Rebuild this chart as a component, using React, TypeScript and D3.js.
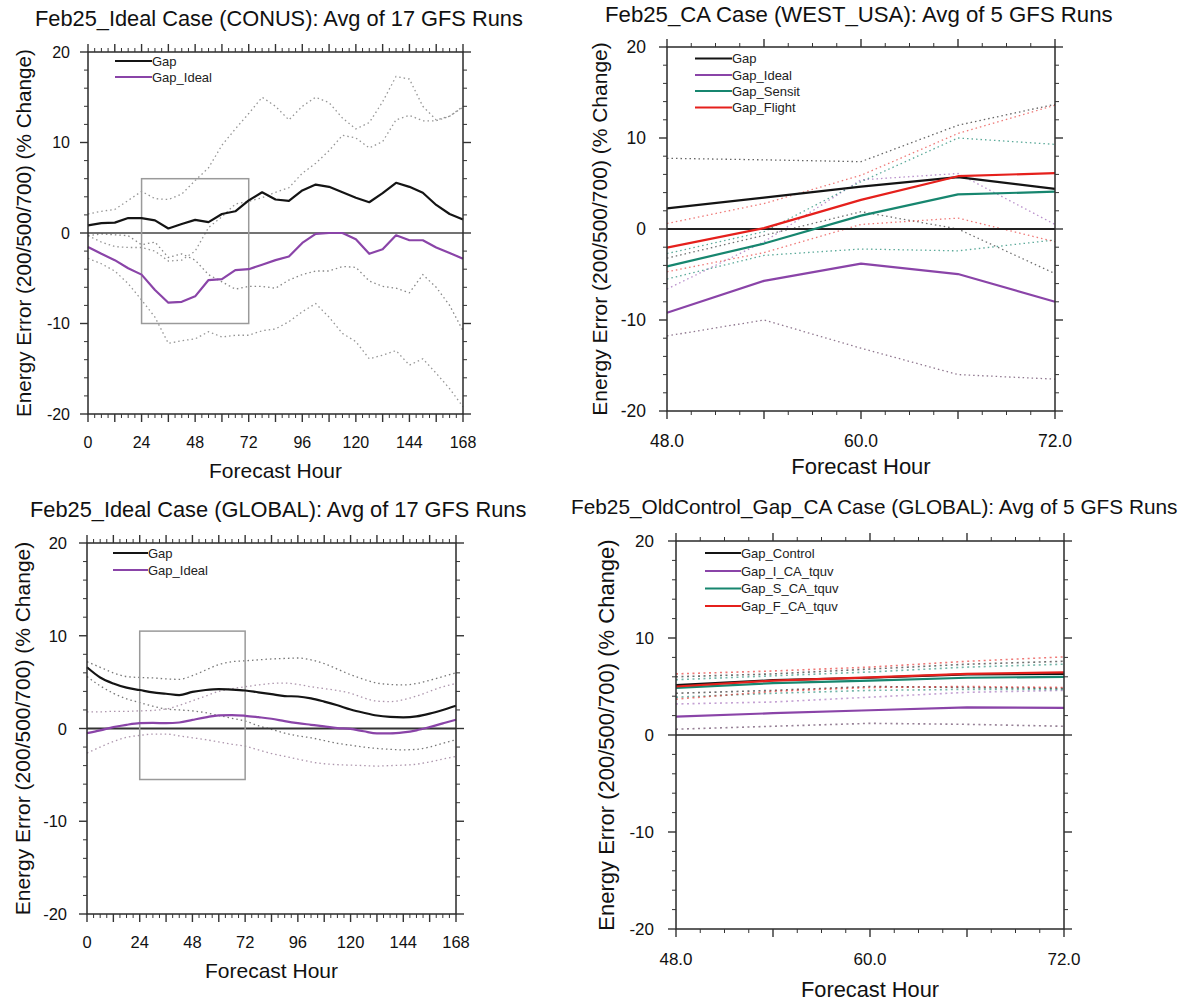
import React from "react";
import * as d3 from "d3";

const FONT = "'Liberation Sans', Arial, Helvetica, sans-serif";

// ---------- x categories & tick labels ----------
const hoursWeek = [0, 6, 12, 18, 24, 30, 36, 42, 48, 54, 60, 66, 72, 78, 84, 90, 96, 102, 108, 114, 120, 126, 132, 138, 144, 150, 156, 162, 168];
const hoursCA = [48, 54, 60, 66, 72];
const weekTickLabels = [0, 24, 48, 72, 96, 120, 144, 168];
const caTickLabels = [48, 60, 72];
const yTickLabels = [-20, -10, 0, 10, 20];

// ---------- Panel 1: Ideal Case (CONUS) ----------
const conusGap = [0.85, 1.1, 1.15, 1.65, 1.65, 1.4, 0.5, 1.0, 1.45, 1.2, 2.1, 2.4, 3.6, 4.5, 3.7, 3.55, 4.7, 5.35, 5.1, 4.5, 3.9, 3.4, 4.4, 5.55, 5.1, 4.45, 3.1, 2.1, 1.5];
const conusIdeal = [-1.55, -2.3, -3.0, -3.9, -4.6, -6.3, -7.7, -7.6, -7.0, -5.2, -5.1, -4.1, -4.0, -3.5, -3.0, -2.6, -1.1, -0.1, 0, 0, -0.7, -2.3, -1.8, -0.25, -0.8, -0.8, -1.6, -2.2, -2.85];
const conusGapUp = [2.1, 2.4, 2.6, 3.6, 4.6, 3.8, 3.7, 4.3, 5.8, 7.2, 9.7, 11.5, 13.2, 15.0, 14.0, 12.5, 14.0, 15.0, 14.4, 12.7, 11.5, 12.2, 14.5, 17.3, 17.0, 14.0, 12.5, 12.9, 14.0];
const conusGapLo = [-0.3, -0.1, -0.2, -0.3, -1.3, -1.0, -2.7, -2.3, -3.0, -4.6, -5.4, -6.2, -5.9, -5.9, -6.1, -5.2, -4.6, -4.2, -4.2, -3.7, -3.8, -5.3, -5.9, -6.1, -6.6, -4.6, -6.0, -8.0, -10.8];
const conusIdealUp = [-0.3, -1.0, -1.5, -1.6, -1.6, -2.0, -3.1, -3.0, -2.0, 0.6, 1.8, 3.2, 3.5, 3.9, 4.5, 5.0, 6.6, 7.7, 9.1, 10.8, 10.5, 9.4, 10.1, 12.5, 13.0, 12.4, 12.4, 12.9, 13.9];
const conusIdealLo = [-2.8, -3.4, -4.2, -5.6, -7.4, -9.3, -12.2, -11.9, -11.7, -10.9, -11.5, -11.3, -11.3, -10.8, -10.6, -9.8, -8.7, -7.8, -9.3, -11.1, -12.0, -13.9, -13.5, -13.0, -14.6, -13.9, -15.5, -17.2, -19.2];

// ---------- Panel 2: CA Case (WEST_USA) ----------
const westGap = [2.27, 3.45, 4.65, 5.7, 4.4];
const westIdeal = [-9.2, -5.7, -3.8, -4.95, -8.0];
const westSensit = [-4.1, -1.6, 1.47, 3.8, 4.1];
const westFlight = [-2.05, 0.1, 3.2, 5.8, 6.15];
const westGapUp = [7.77, 7.6, 7.4, 11.4, 13.7];
const westGapLo = [-3.2, -0.7, 1.9, 0.0, -4.9];
const westIdealUp = [-6.6, -1.4, 5.4, 6.1, 0.5];
const westIdealLo = [-11.75, -10.0, -13.1, -16.0, -16.5];
const westSensitUp = [-2.7, -0.3, 5.2, 10.0, 9.3];
const westSensitLo = [-5.5, -2.9, -2.2, -2.4, -1.2];
const westFlightUp = [0.6, 2.8, 5.9, 10.5, 13.6];
const westFlightLo = [-4.7, -2.6, 0.5, 1.2, -1.4];

// ---------- Panel 3: Ideal Case (GLOBAL) ----------
const globGap = [6.6, 5.5, 4.85, 4.4, 4.15, 3.9, 3.75, 3.6, 3.95, 4.15, 4.25, 4.2, 4.1, 3.9, 3.7, 3.5, 3.45, 3.25, 2.9, 2.5, 2.05, 1.7, 1.4, 1.25, 1.2, 1.3, 1.6, 2.0, 2.45];
const globIdeal = [-0.5, -0.2, 0.15, 0.4, 0.57, 0.6, 0.58, 0.65, 0.93, 1.2, 1.42, 1.45, 1.37, 1.22, 1.05, 0.8, 0.58, 0.4, 0.22, 0.05, -0.05, -0.3, -0.52, -0.52, -0.42, -0.2, 0.15, 0.55, 0.95];
const globGapUp = [7.2, 6.6, 6.0, 5.6, 5.5, 5.45, 5.35, 5.3, 5.7, 6.3, 6.9, 7.2, 7.3, 7.4, 7.5, 7.55, 7.6, 7.4, 7.0, 6.4, 5.8, 5.3, 4.9, 4.75, 4.7, 4.85, 5.2, 5.6, 6.0];
const globGapLo = [5.6, 4.6, 3.8, 3.2, 2.8, 2.4, 2.1, 2.0, 1.9, 1.7, 1.4, 1.1, 0.8, 0.3, -0.1, -0.5, -0.8, -1.0, -1.3, -1.6, -1.8, -2.0, -2.15, -2.25, -2.3, -2.25, -2.0, -1.6, -1.2];
const globIdealUp = [1.8, 1.8, 1.85, 1.85, 1.9, 1.95, 2.1, 2.5, 3.0, 3.5, 4.0, 4.3, 4.5, 4.7, 4.85, 4.9, 4.75, 4.5, 4.3, 4.1, 3.8, 3.3, 2.95, 2.9, 3.1, 3.5, 4.0, 4.5, 4.85];
const globIdealLo = [-2.65, -2.0, -1.4, -0.95, -0.75, -0.6, -0.6, -0.8, -1.0, -1.2, -1.45, -1.7, -1.9, -2.3, -2.7, -3.0, -3.3, -3.6, -3.8, -3.9, -3.95, -4.0, -4.05, -4.0, -3.95, -3.85, -3.6, -3.3, -3.0];

// ---------- Panel 4: OldControl_Gap_CA Case (GLOBAL) ----------
const ocControl = [5.15, 5.65, 5.9, 6.25, 6.3];
const ocIdeal = [1.9, 2.25, 2.55, 2.85, 2.8];
const ocSensit = [4.85, 5.35, 5.6, 5.9, 6.0];
const ocFlight = [5.0, 5.6, 5.95, 6.3, 6.45];
const ocControlUp = [6.0, 6.3, 6.8, 7.3, 7.6];
const ocControlLo = [4.3, 4.6, 5.0, 4.9, 4.8];
const ocIdealUp = [3.2, 3.4, 3.9, 4.4, 4.6];
const ocIdealLo = [0.6, 0.9, 1.2, 1.1, 0.9];
const ocSensitUp = [5.7, 6.1, 6.5, 7.0, 7.3];
const ocSensitLo = [3.9, 4.3, 4.6, 4.7, 4.7];
const ocFlightUp = [6.3, 6.6, 7.0, 7.6, 8.05];
const ocFlightLo = [3.7, 4.5, 4.9, 5.0, 4.9];

// ---------- colours ----------
const C_BLACK = "#141414";
const C_PURPLE = "#8a44a8";
const C_TEAL = "#17866f";
const C_RED = "#e5201c";

type Line = { name: string; values: number[]; color: string };
type Band = { values: number[]; color: string; opacity: number };

interface Spec {
  title: string;
  titleX: number;
  titleY: number;
  titleSize: number;
  left: number;
  right: number;
  top: number;
  bottom: number;
  xDomain: [number, number];
  xs: number[];
  xLabels: number[];
  xFmt: (v: number) => string;
  xMajorStep: number;
  xMinorStep: number;
  lines: Line[];
  bands: Band[];
  curve: d3.CurveFactory;
  legendX1: number;
  legendX2: number;
  legendYs: number[];
  legendSize: number;
  box?: { x0: number; x1: number; y0: number; y1: number };
  yLabelX: number;
  xLabelY: number;
  xTickY: number;
  yTickX: number;
  tickSize: number;
  labelSize: number;
  yLabelSize: number;
  zeroWidth: number;
  zeroColor: string;
  bandWidth: number;
  bandDash: string;
}

function Panel({ s }: { s: Spec }) {
  const x = d3.scaleLinear().domain(s.xDomain).range([s.left, s.right]);
  const y = d3.scaleLinear().domain([-20, 20]).range([s.bottom, s.top]);
  const xMajor = d3.range(s.xDomain[0], s.xDomain[1] + 0.001, s.xMajorStep);
  const xMinor = d3.range(s.xDomain[0], s.xDomain[1] + 0.001, s.xMinorStep).filter(
    (v) => !xMajor.some((m) => Math.abs(m - v) < 1e-6)
  );
  const yMajor = yTickLabels;
  const yMinor = d3.range(-20, 20.001, 2).filter((v) => v % 10 !== 0);
  const gen = d3
    .line<number>()
    .x((_, i) => x(s.xs[i]))
    .y((d) => y(d))
    .curve(s.curve);
  const MAJ = 8;
  const MIN = 4;
  const tickColor = "#333";
  const cx = (s.left + s.right) / 2;
  const cy = (s.top + s.bottom) / 2;
  return (
    <g>
      <text x={s.titleX} y={s.titleY} fontSize={s.titleSize} fontFamily={FONT} fill="#111">
        {s.title}
      </text>
      {s.bands.map((b, i) => (
        <path
          key={"b" + i}
          d={gen(b.values) || ""}
          fill="none"
          stroke={b.color}
          strokeOpacity={b.opacity}
          strokeWidth={s.bandWidth}
          strokeDasharray={s.bandDash}
        />
      ))}
      <line x1={s.left} x2={s.right} y1={y(0)} y2={y(0)} stroke={s.zeroColor} strokeWidth={s.zeroWidth} />
      {s.box && (
        <rect
          x={x(s.box.x0)}
          y={y(s.box.y1)}
          width={x(s.box.x1) - x(s.box.x0)}
          height={y(s.box.y0) - y(s.box.y1)}
          fill="none"
          stroke="#9a9a9a"
          strokeWidth={1.5}
        />
      )}
      {s.lines.map((l, i) => (
        <path key={"l" + i} d={gen(l.values) || ""} fill="none" stroke={l.color} strokeWidth={2.2} strokeLinejoin="round" />
      ))}
      <rect x={s.left} y={s.top} width={s.right - s.left} height={s.bottom - s.top} fill="none" stroke="#2a2a2a" strokeWidth={1.5} />
      {xMajor.map((v) => (
        <g key={"xm" + v}>
          <line x1={x(v)} x2={x(v)} y1={s.bottom} y2={s.bottom + MAJ} stroke={tickColor} strokeWidth={1.4} />
          <line x1={x(v)} x2={x(v)} y1={s.top} y2={s.top - MAJ} stroke={tickColor} strokeWidth={1.4} />
        </g>
      ))}
      {xMinor.map((v) => (
        <g key={"xn" + v}>
          <line x1={x(v)} x2={x(v)} y1={s.bottom} y2={s.bottom + MIN} stroke={tickColor} strokeWidth={1} />
          <line x1={x(v)} x2={x(v)} y1={s.top} y2={s.top - MIN} stroke={tickColor} strokeWidth={1} />
        </g>
      ))}
      {yMajor.map((v) => (
        <g key={"ym" + v}>
          <line x1={s.left} x2={s.left - MAJ} y1={y(v)} y2={y(v)} stroke={tickColor} strokeWidth={1.4} />
          <line x1={s.right} x2={s.right + MAJ} y1={y(v)} y2={y(v)} stroke={tickColor} strokeWidth={1.4} />
        </g>
      ))}
      {yMinor.map((v) => (
        <g key={"yn" + v}>
          <line x1={s.left} x2={s.left - MIN} y1={y(v)} y2={y(v)} stroke={tickColor} strokeWidth={1} />
          <line x1={s.right} x2={s.right + MIN} y1={y(v)} y2={y(v)} stroke={tickColor} strokeWidth={1} />
        </g>
      ))}
      {s.xLabels.map((v) => (
        <text key={"xl" + v} x={x(v)} y={s.xTickY} fontSize={s.tickSize} fontFamily={FONT} textAnchor="middle" fill="#111">
          {s.xFmt(v)}
        </text>
      ))}
      {yMajor.map((v) => (
        <text
          key={"yl" + v}
          x={s.yTickX}
          y={y(v)}
          fontSize={s.tickSize}
          fontFamily={FONT}
          textAnchor="end"
          dominantBaseline="central"
          fill="#111"
        >
          {v}
        </text>
      ))}
      <text x={cx} y={s.xLabelY} fontSize={s.labelSize} fontFamily={FONT} textAnchor="middle" fill="#111">
        Forecast Hour
      </text>
      <text
        transform={`translate(${s.yLabelX},${cy}) rotate(-90)`}
        fontSize={s.yLabelSize}
        fontFamily={FONT}
        textAnchor="middle"
        fill="#111"
      >
        Energy Error (200/500/700) (% Change)
      </text>
      {s.lines.map((l, i) => (
        <g key={"lg" + i}>
          <line x1={s.legendX1} x2={s.legendX2} y1={s.legendYs[i]} y2={s.legendYs[i]} stroke={l.color} strokeWidth={2.2} />
          <text
            x={s.legendX2}
            y={s.legendYs[i]}
            fontSize={s.legendSize}
            fontFamily={FONT}
            dominantBaseline="central"
            fill="#222"
          >
            {l.name}
          </text>
        </g>
      ))}
    </g>
  );
}

const fmtInt = (v: number) => String(v);
const fmt1 = d3.format(".1f");
const GRAY = "#7a7a7a";

const specs: Spec[] = [
  {
    title: "Feb25_Ideal Case (CONUS): Avg of 17 GFS Runs",
    titleX: 35,
    titleY: 26,
    titleSize: 21.8,
    left: 88,
    right: 463,
    top: 52,
    bottom: 414,
    xDomain: [0, 168],
    xs: hoursWeek,
    xLabels: weekTickLabels,
    xFmt: fmtInt,
    xMajorStep: 12,
    xMinorStep: 3,
    lines: [
      { name: "Gap", values: conusGap, color: C_BLACK },
      { name: "Gap_Ideal", values: conusIdeal, color: C_PURPLE },
    ],
    bands: [
      { values: conusGapUp, color: GRAY, opacity: 0.8 },
      { values: conusGapLo, color: GRAY, opacity: 0.9 },
      { values: conusIdealUp, color: GRAY, opacity: 0.8 },
      { values: conusIdealLo, color: GRAY, opacity: 0.8 },
    ],
    curve: d3.curveLinear,
    legendX1: 115,
    legendX2: 152,
    legendYs: [61, 77],
    legendSize: 13,
    box: { x0: 24, x1: 72, y0: -10, y1: 6 },
    yLabelX: 31,
    xLabelY: 478,
    xTickY: 448,
    yTickX: 70,
    tickSize: 16,
    labelSize: 21,
    yLabelSize: 20.7,
    zeroWidth: 1.3,
    zeroColor: "#444",
    bandWidth: 1.3,
    bandDash: "1.5 3",
  },
  {
    title: "Feb25_CA Case (WEST_USA): Avg of 5 GFS Runs",
    titleX: 605,
    titleY: 22,
    titleSize: 22.2,
    left: 667,
    right: 1055,
    top: 47,
    bottom: 411,
    xDomain: [48, 72],
    xs: hoursCA,
    xLabels: caTickLabels,
    xFmt: fmt1,
    xMajorStep: 6,
    xMinorStep: 1.5,
    lines: [
      { name: "Gap", values: westGap, color: C_BLACK },
      { name: "Gap_Ideal", values: westIdeal, color: C_PURPLE },
      { name: "Gap_Sensit", values: westSensit, color: C_TEAL },
      { name: "Gap_Flight", values: westFlight, color: C_RED },
    ],
    bands: [
      { values: westGapUp, color: "#333", opacity: 0.75 },
      { values: westGapLo, color: "#333", opacity: 0.7 },
      { values: westIdealUp, color: C_PURPLE, opacity: 0.6 },
      { values: westIdealLo, color: "#6a4a6a", opacity: 0.75 },
      { values: westSensitUp, color: C_TEAL, opacity: 0.7 },
      { values: westSensitLo, color: C_TEAL, opacity: 0.7 },
      { values: westFlightUp, color: C_RED, opacity: 0.6 },
      { values: westFlightLo, color: C_RED, opacity: 0.6 },
    ],
    curve: d3.curveLinear,
    legendX1: 695,
    legendX2: 732,
    legendYs: [58.5, 75, 91, 107.5],
    legendSize: 13,
    yLabelX: 607,
    xLabelY: 474,
    xTickY: 447,
    yTickX: 646,
    tickSize: 17.5,
    labelSize: 22,
    yLabelSize: 21,
    zeroWidth: 2,
    zeroColor: "#222",
    bandWidth: 1.3,
    bandDash: "1.5 3",
  },
  {
    title: "Feb25_Ideal Case (GLOBAL): Avg of 17 GFS Runs",
    titleX: 30,
    titleY: 517,
    titleSize: 21.8,
    left: 87,
    right: 456,
    top: 543,
    bottom: 914,
    xDomain: [0, 168],
    xs: hoursWeek,
    xLabels: weekTickLabels,
    xFmt: fmtInt,
    xMajorStep: 12,
    xMinorStep: 3,
    lines: [
      { name: "Gap", values: globGap, color: C_BLACK },
      { name: "Gap_Ideal", values: globIdeal, color: C_PURPLE },
    ],
    bands: [
      { values: globGapUp, color: "#555", opacity: 0.8 },
      { values: globGapLo, color: "#555", opacity: 0.8 },
      { values: globIdealUp, color: "#8a6a8a", opacity: 0.7 },
      { values: globIdealLo, color: "#8a6a8a", opacity: 0.7 },
    ],
    curve: d3.curveMonotoneX,
    legendX1: 113,
    legendX2: 148,
    legendYs: [553, 570],
    legendSize: 13,
    box: { x0: 24, x1: 72, y0: -5.5, y1: 10.5 },
    yLabelX: 30,
    xLabelY: 978,
    xTickY: 948,
    yTickX: 67,
    tickSize: 16.5,
    labelSize: 21,
    yLabelSize: 21,
    zeroWidth: 2,
    zeroColor: "#333",
    bandWidth: 1.3,
    bandDash: "1.5 3",
  },
  {
    title: "Feb25_OldControl_Gap_CA Case (GLOBAL): Avg of 5 GFS Runs",
    titleX: 571,
    titleY: 514,
    titleSize: 20.8,
    left: 676,
    right: 1064,
    top: 541,
    bottom: 929,
    xDomain: [48, 72],
    xs: hoursCA,
    xLabels: caTickLabels,
    xFmt: fmt1,
    xMajorStep: 6,
    xMinorStep: 1.5,
    lines: [
      { name: "Gap_Control", values: ocControl, color: C_BLACK },
      { name: "Gap_I_CA_tquv", values: ocIdeal, color: C_PURPLE },
      { name: "Gap_S_CA_tquv", values: ocSensit, color: C_TEAL },
      { name: "Gap_F_CA_tquv", values: ocFlight, color: C_RED },
    ],
    bands: [
      { values: ocControlUp, color: "#333", opacity: 0.7 },
      { values: ocControlLo, color: "#333", opacity: 0.7 },
      { values: ocIdealUp, color: C_PURPLE, opacity: 0.5 },
      { values: ocIdealLo, color: "#6a4a6a", opacity: 0.7 },
      { values: ocSensitUp, color: C_TEAL, opacity: 0.6 },
      { values: ocSensitLo, color: C_TEAL, opacity: 0.6 },
      { values: ocFlightUp, color: C_RED, opacity: 0.6 },
      { values: ocFlightLo, color: C_RED, opacity: 0.6 },
    ],
    curve: d3.curveLinear,
    legendX1: 705,
    legendX2: 741,
    legendYs: [553, 571, 588.5, 606],
    legendSize: 13,
    yLabelX: 614,
    xLabelY: 997,
    xTickY: 965,
    yTickX: 654,
    tickSize: 17,
    labelSize: 21.8,
    yLabelSize: 22,
    zeroWidth: 1.6,
    zeroColor: "#222",
    bandWidth: 1.6,
    bandDash: "2 3.5",
  },
];

export default function App() {
  return (
    <svg width={1202} height={1001} style={{ position: "absolute", left: 0, top: 0, background: "#fff" }}>
      <rect x={0} y={0} width={1202} height={1001} fill="#fff" />
      {specs.map((s, i) => (
        <Panel key={i} s={s} />
      ))}
    </svg>
  );
}
